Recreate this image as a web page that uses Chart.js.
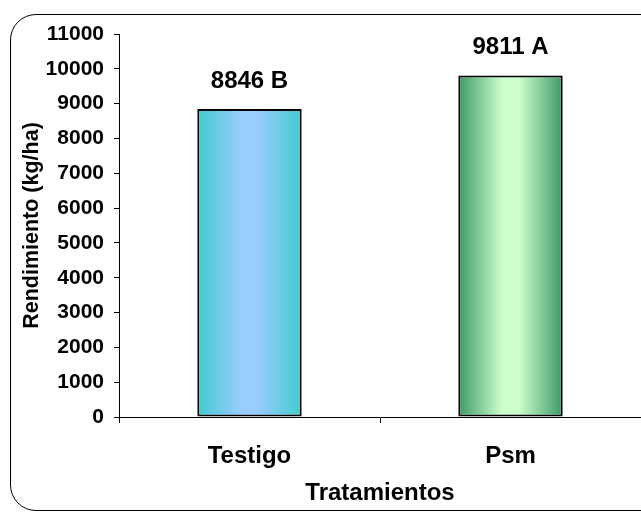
<!DOCTYPE html>
<html>
<head>
<meta charset="utf-8">
<script src="https://cdn.jsdelivr.net/npm/chart.js@4.4.1/dist/chart.umd.min.js"></script>
<style>
    html, body { margin: 0; padding: 0; background: #fff; overflow: hidden; }
    #wrap { position: relative; width: 641px; height: 512px; }
    #frame {
        position: absolute; left: 10px; top: 14px; width: 700px; height: 495px;
        border: 1px solid #000; border-radius: 26px; pointer-events: none;
    }
    canvas { position: absolute; left: 0; top: 0; }
</style>
</head>
<body>
<div id="wrap">
    <div id="frame"></div>
    <canvas id="rendChart" width="641" height="512"></canvas>
</div>
<script>
// ===== DATI =====
const tratamientos = ['Testigo', 'Psm'];
const rendimiento = [8846, 9811];
const letras = ['B', 'A'];
const yTicks = [0, 1000, 2000, 3000, 4000, 5000, 6000, 7000, 8000, 9000, 10000, 11000];

// colori gradiente (bordo, centro)
const gradColors = [
    ['#40CCCC', '#99CCFF'],
    ['#3E9968', '#CCFFCC']
];

const FONT = "'Liberation Sans', Arial, sans-serif";
const BAR_PCT = 0.4;

// Gradiente orizzontale per ogni barra
function barGradient(context) {
    const chart = context.chart;
    const area = chart.chartArea;
    const i = context.dataIndex;
    const cols = gradColors[i] || gradColors[0];
    if (!area) return cols[0];
    const xs = chart.scales.x;
    const cx = xs.getPixelForValue(i);
    const half = (area.width / tratamientos.length) * BAR_PCT / 2;
    const g = chart.ctx.createLinearGradient(cx - half, 0, cx + half, 0);
    g.addColorStop(0, cols[0]);
    g.addColorStop(0.42, cols[1]);
    g.addColorStop(0.58, cols[1]);
    g.addColorStop(1, cols[0]);
    return g;
}

// Etichette sopra le barre
const valueLabels = {
    id: 'valueLabels',
    afterDatasetsDraw(chart) {
        const ctx = chart.ctx;
        const meta = chart.getDatasetMeta(0);
        ctx.save();
        ctx.font = 'bold 24px ' + FONT;
        ctx.fillStyle = '#000';
        ctx.textAlign = 'center';
        ctx.textBaseline = 'alphabetic';
        meta.data.forEach((bar, i) => {
            ctx.fillText(rendimiento[i] + ' ' + letras[i], bar.x, bar.y - 21);
        });
        ctx.restore();
    }
};

new Chart(document.getElementById('rendChart'), {
    type: 'bar',
    data: {
        labels: tratamientos,
        datasets: [{
            data: rendimiento,
            backgroundColor: barGradient,
            borderColor: '#000',
            borderWidth: 2,
            borderSkipped: false,
            barPercentage: BAR_PCT,
            categoryPercentage: 1
        }]
    },
    options: {
        responsive: false,
        animation: false,
        layout: { padding: { top: 34, right: 0, left: 0, bottom: 0 } },
        plugins: {
            legend: { display: false },
            tooltip: { enabled: false }
        },
        scales: {
            y: {
                min: 0,
                max: 11000,
                afterBuildTicks(scale) {
                    scale.ticks = yTicks.map(v => ({ value: v }));
                },
                afterFit(scale) { scale.width = 119; },
                grid: { drawOnChartArea: false, drawTicks: true, tickLength: 5, color: '#000' },
                border: { display: true, color: '#000', width: 1 },
                ticks: {
                    padding: 10,
                    color: '#000',
                    callback: (v) => String(v),
                    font: { family: FONT, size: 21, weight: 'bold' }
                },
                title: {
                    display: true,
                    text: 'Rendimiento (kg/ha)',
                    color: '#000',
                    padding: { top: 19, bottom: 0 },
                    font: { family: FONT, size: 21.5, weight: 'bold' }
                }
            },
            x: {
                afterFit(scale) { scale.height = 95; },
                grid: { drawOnChartArea: false, drawTicks: true, tickLength: 6, offset: true, color: '#000' },
                border: { display: true, color: '#000', width: 1 },
                ticks: {
                    padding: 19,
                    color: '#000',
                    font: { family: FONT, size: 24, weight: 'bold' }
                },
                title: {
                    display: true,
                    text: 'Tratamientos',
                    color: '#000',
                    padding: { top: 0, bottom: 4 },
                    font: { family: FONT, size: 24, weight: 'bold' }
                }
            }
        }
    },
    plugins: [valueLabels]
});
</script>
</body>
</html>
